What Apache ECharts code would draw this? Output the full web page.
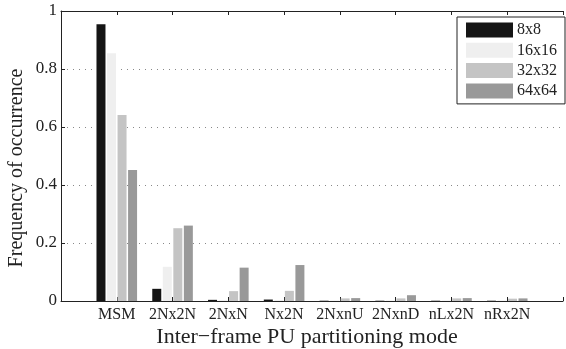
<!DOCTYPE html>
<html><head><meta charset="utf-8">
<script src="https://cdn.jsdelivr.net/npm/echarts@6/dist/echarts.min.js"></script>
<style>html,body{margin:0;padding:0;background:#fff}#c{width:566px;height:349px}</style>
</head><body><div id="c"></div>
<script>
const categories = ['MSM','2Nx2N','2NxN','Nx2N','2NxnU','2NxnD','nLx2N','nRx2N'];
const seriesNames = ['8x8','16x16','32x32','64x64'];
const v8x8   = [0.954, 0.042, 0.004, 0.005, 0.001, 0.001, 0.001, 0.001];
const v16x16 = [0.854, 0.118, 0.003, 0.003, 0.002, 0.002, 0.002, 0.002];
const v32x32 = [0.641, 0.251, 0.034, 0.035, 0.009, 0.009, 0.009, 0.008];
const v64x64 = [0.452, 0.260, 0.115, 0.124, 0.010, 0.020, 0.010, 0.009];
const yTicks = ['0','0.2','0.4','0.6','0.8','1'];
const colors = ['#151515','#efefef','#c4c4c4','#999999'];
const xTitle = 'Inter\u2212frame PU partitioning mode';
const yTitle = 'Frequency of occurrence';

const allVals = [v8x8, v16x16, v32x32, v64x64];
const font = 'Liberation Serif';
const ink = '#222';

const chart = echarts.init(document.getElementById('c'));
chart.setOption({
  animation: false,
  textStyle: { fontFamily: font },
  grid: { left: 61, right: -7, top: 11, bottom: 48, containLabel: false },
  legend: {
    orient: 'vertical', left: 457, top: 17,
    padding: [5, 8, 5, 9],
    itemWidth: 47, itemHeight: 15, itemGap: 4.3,
    backgroundColor: '#fff', borderColor: ink, borderWidth: 1,
    textStyle: { fontFamily: font, fontSize: 16, color: ink, padding: [0,0,0,-1] },
    icon: 'rect',
    data: seriesNames
  },
  graphic: [
    { type: 'text', silent: true, x: 307, y: 337,
      style: { text: xTitle, font: '22px "Liberation Serif"', fill: ink,
               textAlign: 'center', textVerticalAlign: 'middle' } },
    { type: 'text', silent: true, x: 17, y: 168, rotation: Math.PI / 2,
      style: { text: yTitle, font: '20px "Liberation Serif"', fill: ink,
               textAlign: 'center', textVerticalAlign: 'middle' } }
  ],
  xAxis: [{
    type: 'value', min: 0, max: 9, interval: 1,
    axisLine: { show: true, onZero: false, lineStyle: { color: ink, width: 1 } },
    axisTick: { show: true, inside: true, length: 4, lineStyle: { color: ink } },
    axisLabel: { fontFamily: font, fontSize: 16, color: ink, margin: 6,
      showMinLabel: true, showMaxLabel: true,
      formatter: (v) => categories[Math.round(v) - 1] || '' },
    splitLine: { show: false }
  }, {
    type: 'value', min: 0, max: 9, interval: 1, position: 'top',
    axisLine: { show: true, onZero: false, lineStyle: { color: ink, width: 1 } },
    axisTick: { show: true, inside: true, length: 4, lineStyle: { color: ink } },
    axisLabel: { show: false }, splitLine: { show: false }
  }],
  yAxis: {
    type: 'value', min: 0, max: 1, interval: 0.2,
    axisLine: { show: true, lineStyle: { color: ink, width: 1 } },
    axisTick: { show: true, inside: true, length: 4, lineStyle: { color: ink } },
    axisLabel: { fontFamily: font, fontSize: 17, color: ink, margin: 4,
      formatter: (v) => yTicks[Math.round(v / 0.2)] },
    splitLine: { show: true, lineStyle: { color: '#888', type: [1, 5], width: 1 } }
  },
  series: seriesNames.map((n, i) => ({
    name: n, type: 'bar', xAxisIndex: 0,
    data: categories.map((c, j) => [j + 1, allVals[i][j]]),
    barWidth: 9, barGap: '17%',
    itemStyle: { color: colors[i] }
  }))
});
</script></body></html>
